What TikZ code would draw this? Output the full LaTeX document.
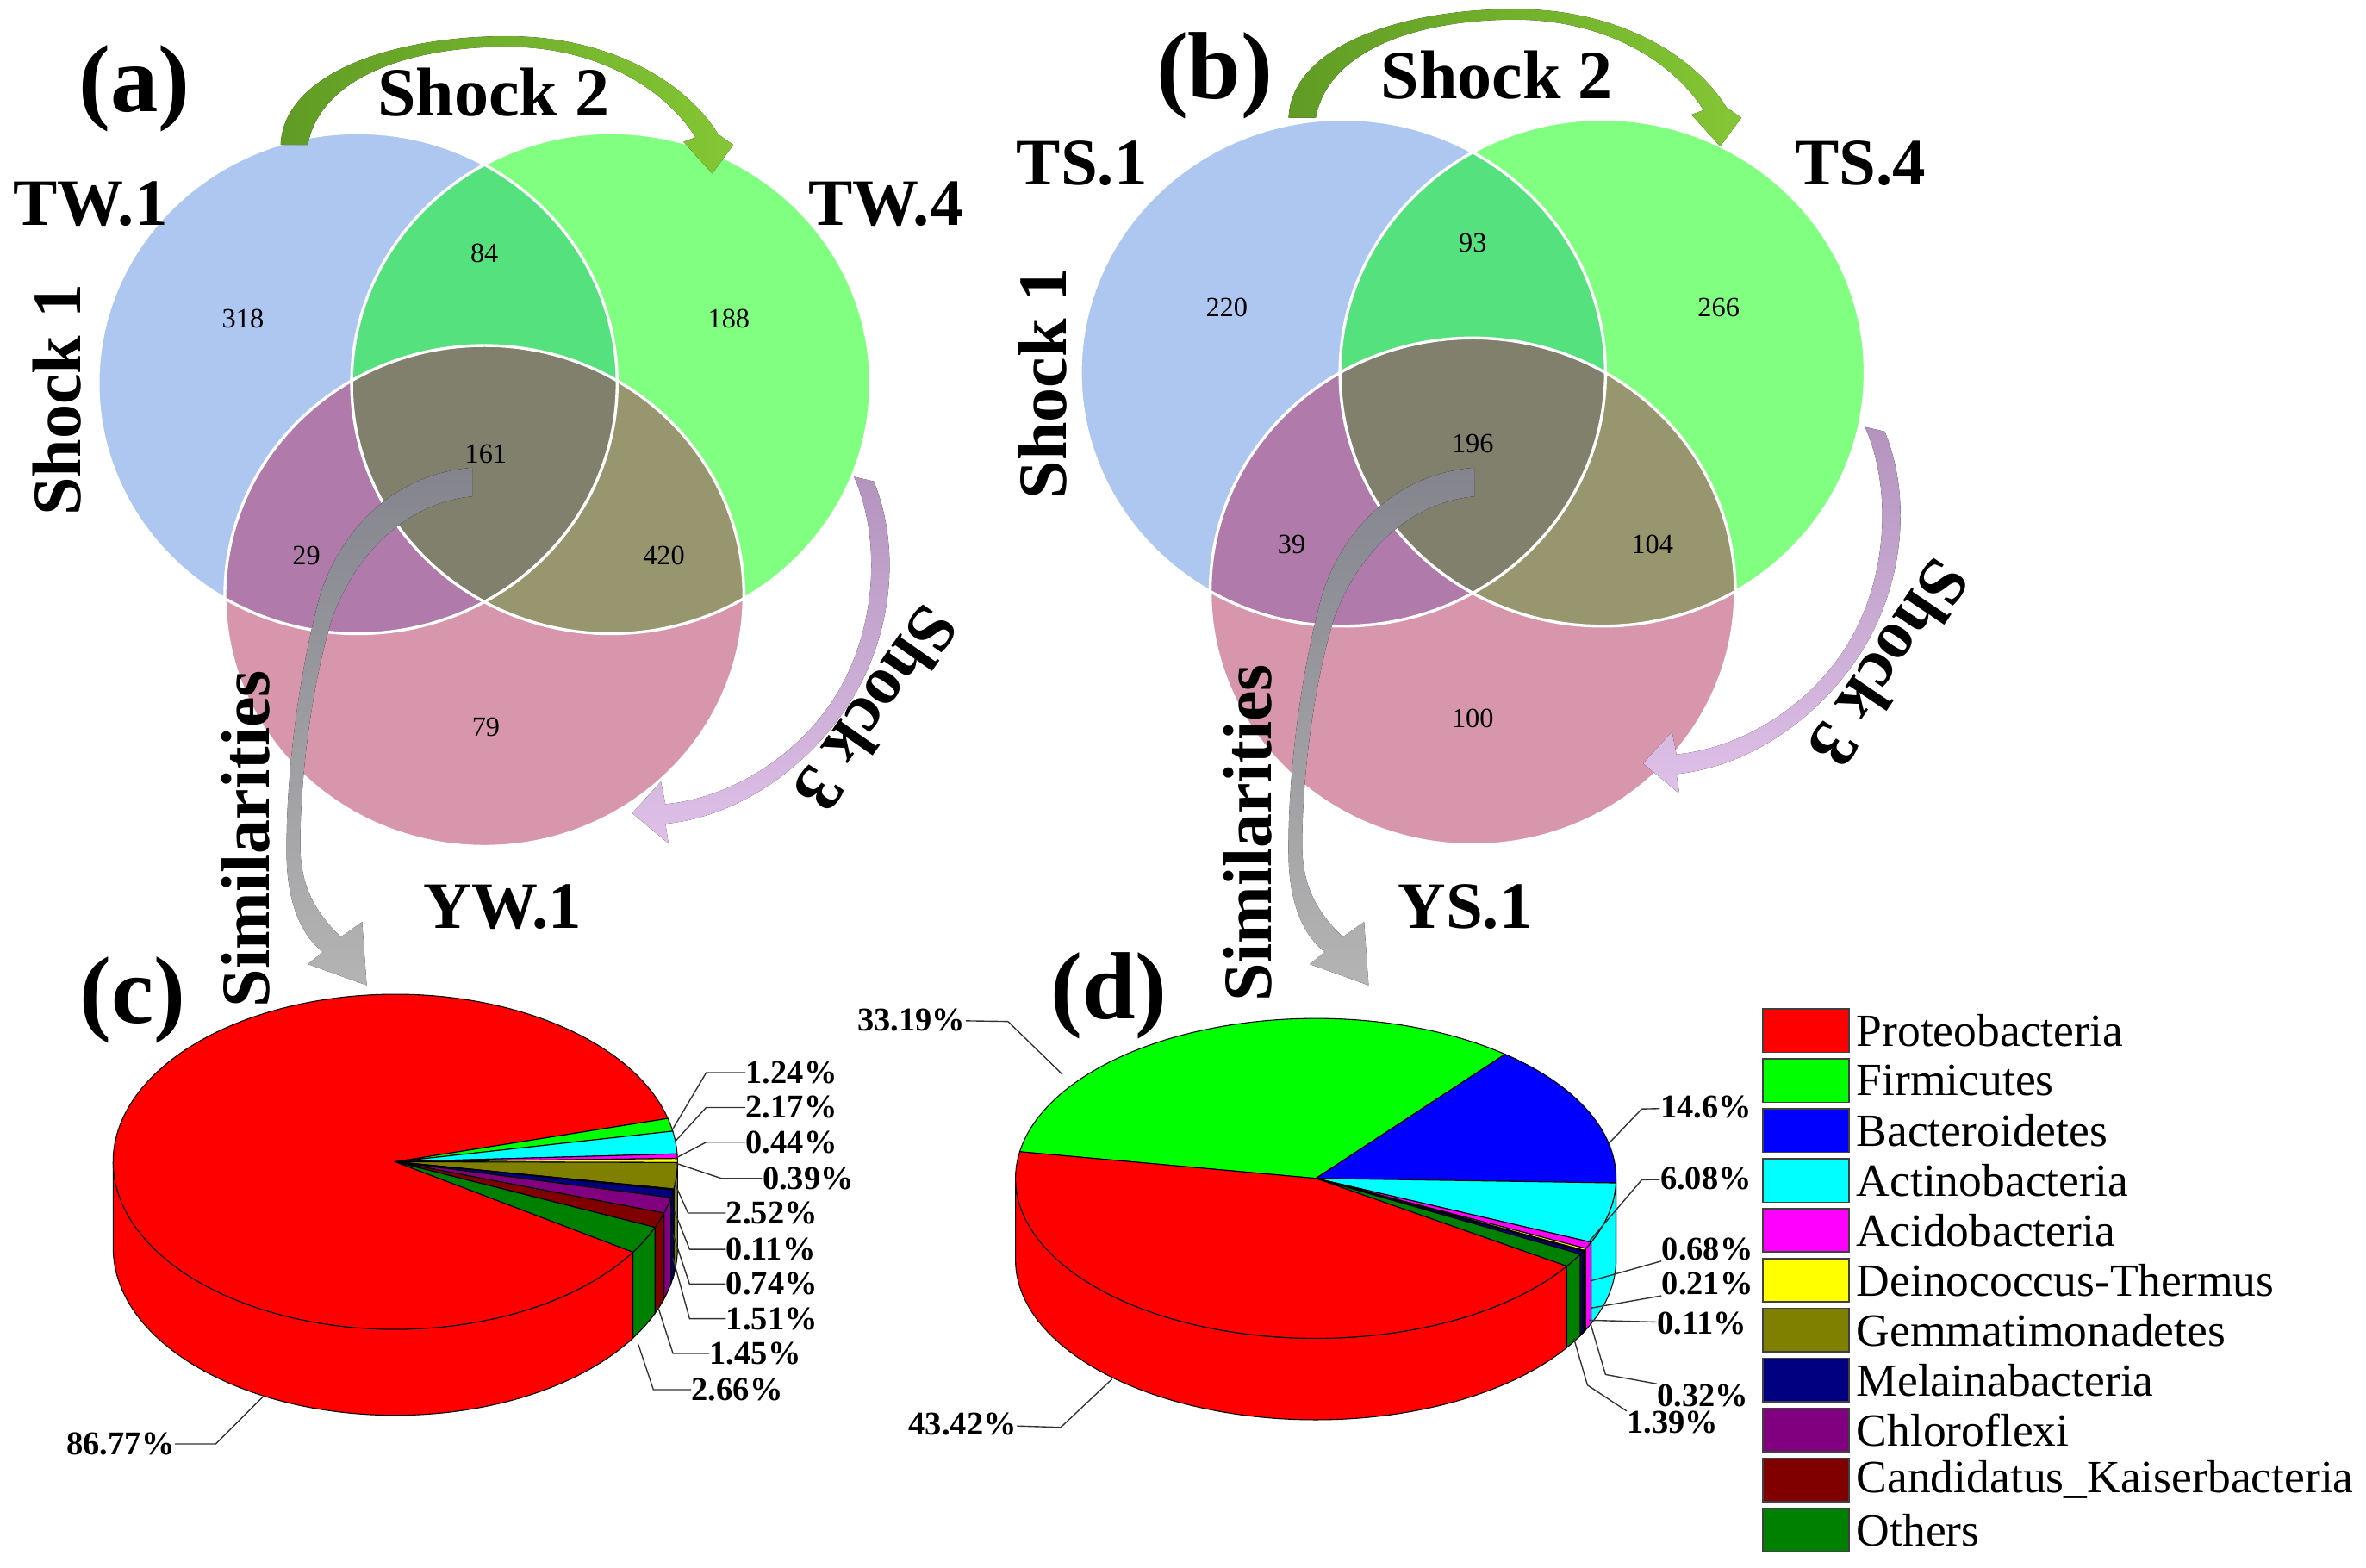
\documentclass[tikz,border=0pt]{standalone}
\usepackage{fontspec}
\setmainfont{Liberation Serif}
\usetikzlibrary{arrows,calc}

\definecolor{vblue}{RGB}{174,199,240}
\definecolor{vgreen}{RGB}{128,255,128}
\definecolor{vpink}{RGB}{215,150,172}
\definecolor{vbg}{RGB}{85,225,125}
\definecolor{vbp}{RGB}{176,122,170}
\definecolor{vgp}{RGB}{152,150,110}
\definecolor{vall}{RGB}{128,128,108}
\definecolor{proteo}{RGB}{255,0,0}
\definecolor{firmi}{RGB}{0,255,0}
\definecolor{bactero}{RGB}{0,0,255}
\definecolor{actino}{RGB}{0,255,255}
\definecolor{acido}{RGB}{255,0,255}
\definecolor{deino}{RGB}{255,255,0}
\definecolor{gemma}{RGB}{128,128,0}
\definecolor{melaina}{RGB}{0,0,128}
\definecolor{chloro}{RGB}{128,0,128}
\definecolor{kaiser}{RGB}{128,0,0}
\definecolor{others}{RGB}{0,128,0}
\definecolor{shockA}{RGB}{96,156,36}
\definecolor{shockB}{RGB}{132,198,52}
\definecolor{shockC}{RGB}{180,148,190}
\definecolor{shockD}{RGB}{222,192,232}
\definecolor{simA}{RGB}{132,132,142}
\definecolor{simB}{RGB}{180,180,180}

% one venn: coordinates #1b, #1g, #1p; radii #2, #3
\newcommand{\venndiagram}[3]{%
  \fill[vblue] (#1b) ellipse [x radius=#2, y radius=#3];
  \fill[vgreen] (#1g) ellipse [x radius=#2, y radius=#3];
  \fill[vpink] (#1p) ellipse [x radius=#2, y radius=#3];
  \begin{scope}
    \clip (#1b) ellipse [x radius=#2, y radius=#3];
    \fill[vbg] (#1g) ellipse [x radius=#2, y radius=#3];
    \fill[vbp] (#1p) ellipse [x radius=#2, y radius=#3];
  \end{scope}
  \begin{scope}
    \clip (#1g) ellipse [x radius=#2, y radius=#3];
    \fill[vgp] (#1p) ellipse [x radius=#2, y radius=#3];
  \end{scope}
  \begin{scope}
    \clip (#1b) ellipse [x radius=#2, y radius=#3];
    \clip (#1g) ellipse [x radius=#2, y radius=#3];
    \fill[vall] (#1p) ellipse [x radius=#2, y radius=#3];
  \end{scope}
  \draw[vline] (#1b) ellipse [x radius=#2, y radius=#3]
    (#1g) ellipse [x radius=#2, y radius=#3]
    (#1p) ellipse [x radius=#2, y radius=#3];}

% pie pieces, centre at (0,0) of the scope
\newcommand{\pietop}[3]{%
  \filldraw[pieline, fill=#3] (0,0) -- ({\prx*cos(#1)},{\pry*sin(#1)})
    arc[start angle=#1, end angle=#2, x radius=\prx, y radius=\pry] -- cycle;}
\newcommand{\pieside}[3]{%
  \filldraw[pieline, fill=#3] ({\prx*cos(#1)},{\pry*sin(#1)})
    arc[start angle=#1, end angle=#2, x radius=\prx, y radius=\pry] -- ++(0,-\pdep)
    arc[start angle=#2, end angle=#1, x radius=\prx, y radius=\pry] -- cycle;}

\tikzset{
  bigtxt/.style={inner sep=0pt, font=\fontsize{26}{28}\selectfont\bfseries},
  tagtxt/.style={inner sep=0pt, font=\fontsize{25}{27}\selectfont\bfseries},
  paneltxt/.style={inner sep=0pt, font=\fontsize{36}{40}\selectfont\bfseries},
  numtxt/.style={inner sep=0pt, font=\fontsize{10.5}{12}\selectfont},
  pcttxt/.style={inner sep=0pt, font=\fontsize{12.5}{14}\selectfont\bfseries},
  legtxt/.style={inner sep=0pt, anchor=west, font=\fontsize{17.4}{19}\selectfont},
  legbox/.style={draw=black!75, line width=0.6pt, inner sep=0pt,
    minimum width=11.4mm, minimum height=5.8mm},
  pieline/.style={draw=black, line width=0.35pt},
  leader/.style={draw=black!80, line width=0.45pt},
  vline/.style={draw=white, line width=1.1pt}
}

\begin{document}
\begin{tikzpicture}[x=0.2mm, y=0.2mm]
  \useasboundingbox (0,0) rectangle (1568,-1039);
  \fill[white] (0,0) rectangle (1568,-1039);

  % venn diagrams
  \coordinate (ab) at (237,-254);
  \coordinate (ag) at (405,-254);
  \coordinate (ap) at (321,-395);
  \coordinate (bb) at (890,-247);
  \coordinate (bg) at (1062,-247);
  \coordinate (bp) at (976,-392);
  \venndiagram{a}{172}{166}
  \venndiagram{b}{174}{168}

  \node[numtxt] (a318) at (161,-211) {318};
  \node[numtxt] (a84) at (321,-168) {84};
  \node[numtxt] (a188) at (483,-211) {188};
  \node[numtxt] (a161) at (322,-301) {161};
  \node[numtxt] (a29) at (203,-368) {29};
  \node[numtxt] (a420) at (440,-368) {420};
  \node[numtxt] (a79) at (322,-482) {79};

  \node[numtxt] (b220) at (813,-204) {220};
  \node[numtxt] (b93) at (976,-161) {93};
  \node[numtxt] (b266) at (1139,-204) {266};
  \node[numtxt] (b196) at (976,-294) {196};
  \node[numtxt] (b39) at (856,-361) {39};
  \node[numtxt] (b104) at (1095,-361) {104};
  \node[numtxt] (b100) at (976,-476) {100};

  % shock 2 arrows
  \fill[left color=shockA, right color=shockB] (186,-96) .. controls (188,-48) and (262,-24) .. (336,-24)
    .. controls (405,-24) and (455,-55) .. (476,-89) -- (486,-96) -- (472,-115) -- (453,-94) -- (461,-91)
    .. controls (440,-58) and (395,-31) .. (336,-31) .. controls (270,-31) and (212,-52) .. (204,-96) -- cycle;
  \begin{scope}[shift={(668,18)}]
  \fill[left color=shockA, right color=shockB] (186,-96) .. controls (188,-48) and (262,-24) .. (336,-24)
    .. controls (405,-24) and (455,-55) .. (476,-89) -- (486,-96) -- (472,-115) -- (453,-94) -- (461,-91)
    .. controls (440,-58) and (395,-31) .. (336,-31) .. controls (270,-31) and (212,-52) .. (204,-96) -- cycle;
  \end{scope}

  % shock 3 arrows
  \fill[top color=shockC, bottom color=shockD] (566,-316) -- (579,-319) .. controls (594,-355) and (594,-405) .. (572,-450)
    .. controls (550,-495) and (500,-540) .. (441,-546) -- (443,-559) -- (419,-539) -- (438,-518) -- (441,-533)
    .. controls (492,-528) and (540,-492) .. (561,-448) .. controls (582,-405) and (582,-352) .. (566,-316) -- cycle;
  \begin{scope}[shift={(670,33)}]
  \fill[top color=shockC, bottom color=shockD] (566,-316) -- (579,-319) .. controls (594,-355) and (594,-405) .. (572,-450)
    .. controls (550,-495) and (500,-540) .. (441,-546) -- (443,-559) -- (419,-539) -- (438,-518) -- (441,-533)
    .. controls (492,-528) and (540,-492) .. (561,-448) .. controls (582,-405) and (582,-352) .. (566,-316) -- cycle;
  \end{scope}

  % similarities arrows
  \fill[top color=simA, bottom color=simB] (313,-310) .. controls (262,-314) and (226,-350) .. (212,-395)
    .. controls (197,-450) and (189,-520) .. (190,-570) .. controls (191,-600) and (200,-620) .. (214,-631)
    -- (204,-639) -- (243,-653) -- (240,-611) -- (226,-621)
    .. controls (207,-603) and (199,-585) .. (199,-560) .. controls (199,-520) and (205,-460) .. (220,-410)
    .. controls (236,-366) and (270,-333) .. (313,-329) -- cycle;
  \begin{scope}[shift={(664,0)}]
  \fill[top color=simA, bottom color=simB] (313,-310) .. controls (262,-314) and (226,-350) .. (212,-395)
    .. controls (197,-450) and (189,-520) .. (190,-570) .. controls (191,-600) and (200,-620) .. (214,-631)
    -- (204,-639) -- (243,-653) -- (240,-611) -- (226,-621)
    .. controls (207,-603) and (199,-585) .. (199,-560) .. controls (199,-520) and (205,-460) .. (220,-410)
    .. controls (236,-366) and (270,-333) .. (313,-329) -- cycle;
  \end{scope}

  % venn labels
  \node[paneltxt] (pa) at (89,-59) {(a)};
  \node[paneltxt] (pb) at (805,-50) {(b)};
  \node[bigtxt] (a2) at (327,-61) {Shock 2};
  \node[bigtxt] (b2) at (992,-50) {Shock 2};
  \node[tagtxt] (tw1) at (60,-135) {TW.1};
  \node[tagtxt] (tw4) at (587,-135) {TW.4};
  \node[tagtxt] (yw1) at (333,-601) {YW.1};
  \node[tagtxt] (ts1) at (717,-108) {TS.1};
  \node[tagtxt] (ts4) at (1233,-108) {TS.4};
  \node[tagtxt] (ys1) at (971,-601) {YS.1};
  \node[bigtxt, rotate=90] (a1) at (38,-265) {Shock 1};
  \node[bigtxt, rotate=90] (b1) at (691,-254) {Shock 1};
  \node[bigtxt, rotate=-125] (a3) at (581,-470) {Shock 3};
  \node[bigtxt, rotate=-124] (b3) at (1252,-440) {Shock 3};
  \node[bigtxt, rotate=90] (asim) at (163,-556) {Similarities};
  \node[bigtxt, rotate=90] (bsim) at (827,-552) {Similarities};

  % pie (c)
  \begin{scope}[shift={(262,-770)}]
    \def\prx{187}\def\pry{111}\def\pdep{57}
    \pieside{0}{-0.264}{deino}
    \pieside{-0.264}{-9.336}{gemma}
    \pieside{-9.336}{-9.732}{bactero}
    \pieside{-9.732}{-12.396}{melaina}
    \pieside{-12.396}{-17.832}{chloro}
    \pieside{-17.832}{-23.052}{kaiser}
    \pieside{-23.052}{-32.628}{others}
    \pieside{-32.628}{-180}{proteo}
    \pietop{15}{327.372}{proteo}
    \pietop{10.536}{15}{firmi}
    \pietop{2.724}{10.536}{actino}
    \pietop{1.14}{2.724}{acido}
    \pietop{-0.264}{1.14}{deino}
    \pietop{-9.336}{-0.264}{gemma}
    \pietop{-9.732}{-9.336}{bactero}
    \pietop{-12.396}{-9.732}{melaina}
    \pietop{-17.832}{-12.396}{chloro}
    \pietop{-23.052}{-17.832}{kaiser}
    \pietop{-32.628}{-23.052}{others}
  \end{scope}
  \node[paneltxt] (pc) at (88,-663) {(c)};

  \node[pcttxt, anchor=west] (c1) at (494,-711) {1.24\%};
  \node[pcttxt, anchor=west] (c2) at (494,-734) {2.17\%};
  \node[pcttxt, anchor=west] (c3) at (494,-757) {0.44\%};
  \node[pcttxt, anchor=west] (c4) at (505,-781) {0.39\%};
  \node[pcttxt, anchor=west] (c5) at (481,-804) {2.52\%};
  \node[pcttxt, anchor=west] (c6) at (481,-828) {0.11\%};
  \node[pcttxt, anchor=west] (c7) at (481,-851) {0.74\%};
  \node[pcttxt, anchor=west] (c8) at (481,-874) {1.51\%};
  \node[pcttxt, anchor=west] (c9) at (470,-897) {1.45\%};
  \node[pcttxt, anchor=west] (c10) at (458,-921) {2.66\%};
  \node[pcttxt, anchor=east] (c0) at (116,-957) {86.77\%};

  \coordinate (c1e) at (446,-748);  \coordinate (c1b) at (468,-711);
  \coordinate (c2e) at (447,-757);  \coordinate (c2b) at (468,-734);
  \coordinate (c3e) at (447,-768);  \coordinate (c3b) at (468,-757);
  \coordinate (c4e) at (448,-771);  \coordinate (c4b) at (478,-781);
  \coordinate (c5e) at (447,-784);  \coordinate (c5b) at (456,-804);
  \coordinate (c6e) at (447,-803);  \coordinate (c6b) at (457,-828);
  \coordinate (c7e) at (446,-818);  \coordinate (c7b) at (457,-851);
  \coordinate (c8e) at (446,-834);  \coordinate (c8b) at (457,-874);
  \coordinate (c9e) at (436,-866);  \coordinate (c9b) at (446,-897);
  \coordinate (c10e) at (423,-891); \coordinate (c10b) at (433,-921);
  \coordinate (c0e) at (175,-925);  \coordinate (c0b) at (143,-957);
  \draw[leader] (c1e) -- (c1b) -- (c1);
  \draw[leader] (c2e) -- (c2b) -- (c2);
  \draw[leader] (c3e) -- (c3b) -- (c3);
  \draw[leader] (c4e) -- (c4b) -- (c4);
  \draw[leader] (c5e) -- (c5b) -- (c5);
  \draw[leader] (c6e) -- (c6b) -- (c6);
  \draw[leader] (c7e) -- (c7b) -- (c7);
  \draw[leader] (c8e) -- (c8b) -- (c8);
  \draw[leader] (c9e) -- (c9b) -- (c9);
  \draw[leader] (c10e) -- (c10b) -- (c10);
  \draw[leader] (c0e) -- (c0b) -- (c0);

  % pie (d)
  \begin{scope}[shift={(872,-781)}]
    \def\prx{199}\def\pry{106}\def\pdep{54}
    \pieside{0}{-1.644}{bactero}
    \pieside{-1.644}{-23.532}{actino}
    \pieside{-23.532}{-25.98}{acido}
    \pieside{-25.98}{-26.736}{deino}
    \pieside{-26.736}{-27.132}{gemma}
    \pieside{-27.132}{-28.284}{melaina}
    \pieside{-28.284}{-33.288}{others}
    \pieside{-33.288}{-180}{proteo}
    \pietop{50.916}{170.4}{firmi}
    \pietop{-1.644}{50.916}{bactero}
    \pietop{-23.532}{-1.644}{actino}
    \pietop{-25.98}{-23.532}{acido}
    \pietop{-26.736}{-25.98}{deino}
    \pietop{-27.132}{-26.736}{gemma}
    \pietop{-28.284}{-27.132}{melaina}
    \pietop{-33.288}{-28.284}{others}
    \pietop{-189.6}{-33.288}{proteo}
  \end{scope}
  \node[paneltxt] (pd) at (735,-660) {(d)};

  \node[pcttxt, anchor=east] (d1) at (640,-676) {33.19\%};
  \node[pcttxt, anchor=west] (d2) at (1100,-734) {14.6\%};
  \node[pcttxt, anchor=west] (d3) at (1100,-781) {6.08\%};
  \node[pcttxt, anchor=west] (d4) at (1101,-828) {0.68\%};
  \node[pcttxt, anchor=west] (d5) at (1101,-851) {0.21\%};
  \node[pcttxt, anchor=west] (d6) at (1098,-877) {0.11\%};
  \node[pcttxt, anchor=west] (d7) at (1098,-925) {0.32\%};
  \node[pcttxt, anchor=west] (d8) at (1078,-943) {1.39\%};
  \node[pcttxt, anchor=east] (d0) at (674,-944) {43.42\%};

  \coordinate (d1e) at (704,-712);  \coordinate (d1b) at (668,-677);
  \coordinate (d2e) at (1066,-758); \coordinate (d2b) at (1088,-735);
  \coordinate (d3e) at (1053,-823); \coordinate (d3b) at (1088,-782);
  \coordinate (d4e) at (1054,-849);
  \coordinate (d5e) at (1054,-867);
  \coordinate (d6e) at (1053,-875);
  \coordinate (d7e) at (1054,-877); \coordinate (d7b) at (1064,-911);
  \coordinate (d8e) at (1043,-887); \coordinate (d8b) at (1052,-918);
  \coordinate (d0e) at (737,-914);  \coordinate (d0b) at (703,-946);
  \draw[leader] (d1e) -- (d1b) -- (d1);
  \draw[leader] (d2e) -- (d2b) -- (d2);
  \draw[leader] (d3e) -- (d3b) -- (d3);
  \draw[leader] (d4e) -- (d4.south west);
  \draw[leader] (d5e) -- (d5.south west);
  \draw[leader] (d6e) -- (d6);
  \draw[leader] (d7e) -- (d7b) -- (d7.north west);
  \draw[leader] (d8e) -- (d8b) -- (d8.north west);
  \draw[leader] (d0e) -- (d0b) -- (d0);

  % legend
  \node[legbox, fill=proteo] (k1) at (1197,-683) {};
  \node[legbox, fill=firmi] (k2) at (1197,-716.1) {};
  \node[legbox, fill=bactero] (k3) at (1197,-749.2) {};
  \node[legbox, fill=actino] (k4) at (1197,-782.3) {};
  \node[legbox, fill=acido] (k5) at (1197,-815.4) {};
  \node[legbox, fill=deino] (k6) at (1197,-848.5) {};
  \node[legbox, fill=gemma] (k7) at (1197,-881.6) {};
  \node[legbox, fill=melaina] (k8) at (1197,-914.7) {};
  \node[legbox, fill=chloro] (k9) at (1197,-947.8) {};
  \node[legbox, fill=kaiser] (k10) at (1197,-980.9) {};
  \node[legbox, fill=others] (k11) at (1197,-1014) {};
  \node[legtxt] (l1) at (1230,-683) {Proteobacteria};
  \node[legtxt] (l2) at (1230,-716.1) {Firmicutes};
  \node[legtxt] (l3) at (1230,-749.2) {Bacteroidetes};
  \node[legtxt] (l4) at (1230,-782.3) {Actinobacteria};
  \node[legtxt] (l5) at (1230,-815.4) {Acidobacteria};
  \node[legtxt] (l6) at (1230,-848.5) {Deinococcus-Thermus};
  \node[legtxt] (l7) at (1230,-881.6) {Gemmatimonadetes};
  \node[legtxt] (l8) at (1230,-914.7) {Melainabacteria};
  \node[legtxt] (l9) at (1230,-947.8) {Chloroflexi};
  \node[legtxt] (l10) at (1230,-980.9) {Candidatus\_Kaiserbacteria};
  \node[legtxt] (l11) at (1230,-1014) {Others};
\end{tikzpicture}
\end{document}
